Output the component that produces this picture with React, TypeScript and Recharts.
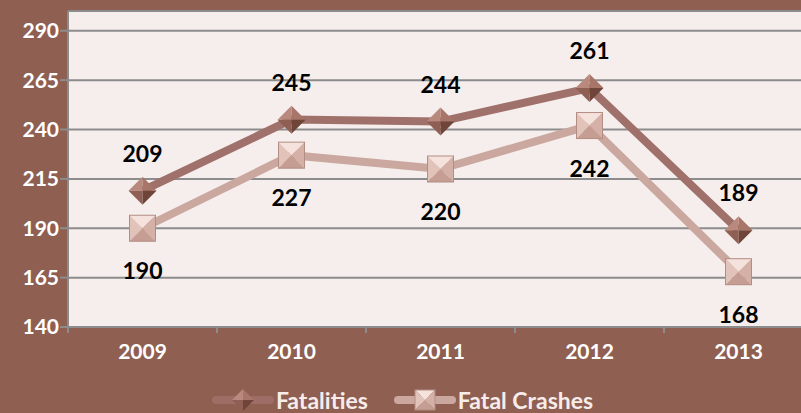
import { LineChart, Line, XAxis, YAxis, CartesianGrid, Legend, LabelList } from 'recharts'

const years = ['2009', '2010', '2011', '2012', '2013']
const fatalities = [209, 245, 244, 261, 189]
const fatalCrashes = [190, 227, 220, 242, 168]
const yTicks = [140, 165, 190, 215, 240, 265, 290]

const data = years.map((year, i) => ({ year, fatalities: fatalities[i], crashes: fatalCrashes[i] }))

const BG = '#8f5f52'
const PLOT_BG = '#f5eeec'
const GRID = '#8c8c8c'
const FAT_COLOR = '#a0706a'
const CRASH_COLOR = '#cba89f'
const FONT = 'Lato, "Open Sans", sans-serif'
const PLOT_BOTTOM = 327
const BAND_HALF = 74.5

function Diamond({ cx, cy, r = 14 }: { cx: number; cy: number; r?: number }) {
  const t = `${cx},${cy - r}`
  const rt = `${cx + r},${cy}`
  const b = `${cx},${cy + r}`
  const l = `${cx - r},${cy}`
  const c = `${cx},${cy}`
  return (
    <g>
      <polygon points={`${t} ${l} ${c}`} fill="#ba897d" />
      <polygon points={`${t} ${rt} ${c}`} fill="#a87569" />
      <polygon points={`${b} ${l} ${c}`} fill="#8f5f54" />
      <polygon points={`${b} ${rt} ${c}`} fill="#6f4439" />
    </g>
  )
}

function Square({ cx, cy, s = 13 }: { cx: number; cy: number; s?: number }) {
  const tl = `${cx - s},${cy - s}`
  const tr = `${cx + s},${cy - s}`
  const br = `${cx + s},${cy + s}`
  const bl = `${cx - s},${cy + s}`
  const c = `${cx},${cy}`
  return (
    <g>
      <polygon points={`${tl} ${tr} ${c}`} fill="#f6e2dc" />
      <polygon points={`${tl} ${bl} ${c}`} fill="#e2c3ba" />
      <polygon points={`${tr} ${br} ${c}`} fill="#d4b0a6" />
      <polygon points={`${bl} ${br} ${c}`} fill="#c69d92" />
      <rect x={cx - s} y={cy - s} width={s * 2} height={s * 2} fill="none" stroke="#b38d83" strokeWidth={1} />
    </g>
  )
}

const renderDiamond = (props: any) => <Diamond key={`d-${props.index}`} cx={props.cx} cy={props.cy} />
const renderSquare = (props: any) => <Square key={`s-${props.index}`} cx={props.cx} cy={props.cy} />

const labelAbove = (props: any) => (
  <text
    x={props.x}
    y={props.y - 38}
    textAnchor="middle"
    dominantBaseline="central"
    fill="#000"
    fontWeight="bold"
    fontSize={23}
    fontFamily={FONT}
  >
    {props.value}
  </text>
)

const labelBelow = (props: any) => (
  <text
    x={props.x}
    y={props.y + 42}
    textAnchor="middle"
    dominantBaseline="central"
    fill="#000"
    fontWeight="bold"
    fontSize={23}
    fontFamily={FONT}
  >
    {props.value}
  </text>
)

const XTick = (props: any) => {
  const { x, payload } = props
  return (
    <g>
      <line x1={x - BAND_HALF} x2={x - BAND_HALF} y1={PLOT_BOTTOM} y2={PLOT_BOTTOM + 6} stroke={GRID} strokeWidth={2} />
      <text
        x={x}
        y={PLOT_BOTTOM + 23}
        textAnchor="middle"
        dominantBaseline="central"
        fill="#fff"
        fontWeight="bold"
        fontSize={21}
        fontFamily={FONT}
      >
        {payload.value}
      </text>
    </g>
  )
}

function LegendContent() {
  const textStyle = { color: '#f7ecea', fontWeight: 'bold' as const, fontSize: 23, fontFamily: FONT, lineHeight: '26px' }
  return (
    <div style={{ height: 30, display: 'flex', alignItems: 'center', justifyContent: 'center' }}>
      <svg width={62} height={30}>
        <line x1={4} x2={58} y1={15} y2={15} stroke={FAT_COLOR} strokeWidth={8} strokeLinecap="round" opacity={0.85} />
        <Diamond cx={31} cy={15} r={11} />
      </svg>
      <span style={{ ...textStyle, marginLeft: 2, marginRight: 26 }}>Fatalities</span>
      <svg width={62} height={30}>
        <line x1={4} x2={58} y1={15} y2={15} stroke={CRASH_COLOR} strokeWidth={8} strokeLinecap="round" />
        <Square cx={31} cy={15} s={10} />
      </svg>
      <span style={{ ...textStyle, marginLeft: 2 }}>Fatal Crashes</span>
    </div>
  )
}

export default function App() {
  return (
    <div style={{ position: 'absolute', left: 0, top: 0, width: 801, height: 413, overflow: 'hidden', background: BG }}>
      <LineChart
        width={813}
        height={413}
        data={data}
        margin={{ top: 11, right: 0, left: 0, bottom: 16 }}
      >
        <CartesianGrid vertical={false} stroke={GRID} strokeWidth={2} fill={PLOT_BG} fillOpacity={1} />
        <XAxis
          dataKey="year"
          height={40}
          padding={{ left: BAND_HALF, right: BAND_HALF }}
          axisLine={{ stroke: GRID, strokeWidth: 2 }}
          tickLine={false}
          tick={<XTick />}
          interval={0}
        />
        <YAxis
          width={68}
          domain={[140, 300]}
          ticks={yTicks}
          allowDataOverflow
          axisLine={{ stroke: GRID, strokeWidth: 2 }}
          tickLine={{ stroke: GRID, strokeWidth: 2 }}
          tickSize={8}
          tickMargin={1}
          tick={{ fill: '#fff', fontWeight: 'bold', fontSize: 21, fontFamily: FONT }}
          interval={0}
        />
        <Legend
          verticalAlign="bottom"
          content={<LegendContent />}
          wrapperStyle={{ top: 385, left: 2, width: 801, height: 30 }}
        />
        <Line
          type="linear"
          dataKey="fatalities"
          name="Fatalities"
          stroke={FAT_COLOR}
          strokeWidth={8}
          dot={renderDiamond}
          activeDot={false}
          isAnimationActive={false}
        >
          <LabelList dataKey="fatalities" content={labelAbove} />
        </Line>
        <Line
          type="linear"
          dataKey="crashes"
          name="Fatal Crashes"
          stroke={CRASH_COLOR}
          strokeWidth={8}
          dot={renderSquare}
          activeDot={false}
          isAnimationActive={false}
        >
          <LabelList dataKey="crashes" content={labelBelow} />
        </Line>
      </LineChart>
    </div>
  )
}
